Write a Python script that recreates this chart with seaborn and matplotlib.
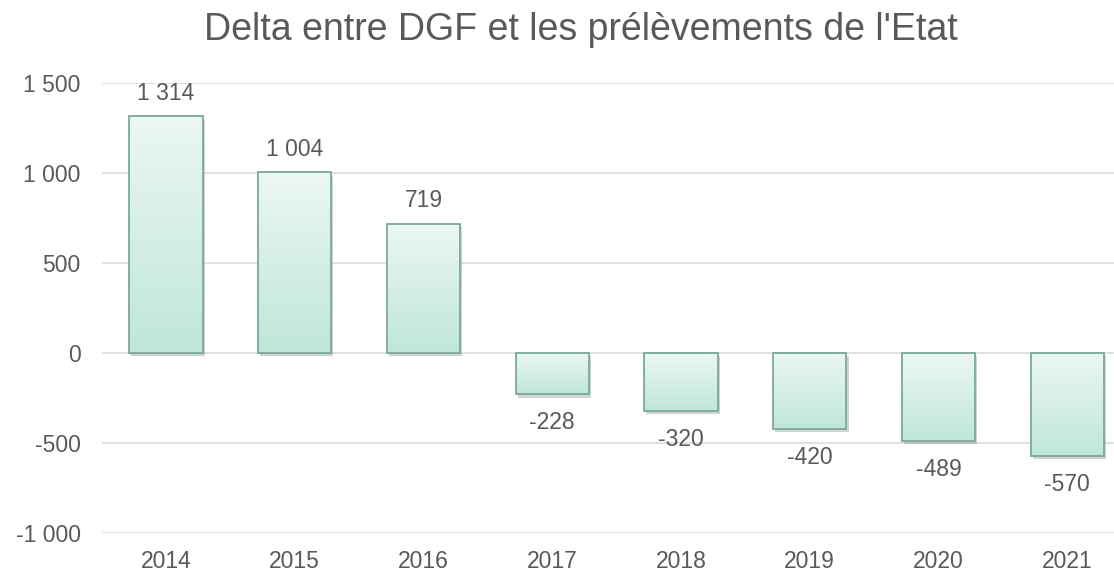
import numpy as np
import pandas as pd
import seaborn as sns
from matplotlib import pyplot as plt
from matplotlib import patheffects as pe
from matplotlib.colors import LinearSegmentedColormap
from matplotlib.patches import Rectangle

years = ['2014', '2015', '2016', '2017', '2018', '2019', '2020', '2021']
delta = [1314, 1004, 719, -228, -320, -420, -489, -570]
y_ticks = [-1000, -500, 0, 500, 1000, 1500]

title = "Delta entre DGF et les prélèvements de l'Etat"

text_col = '#595959'
grid_col = '#d9d9d9'
edge_col = '#79a99c'
top_col = '#ecf7f4'
bottom_col = '#bfe6db'


def fmt(v):
    return f'{int(v):,}'.replace(',', ' ')


sns.set_theme(style='white')
plt.rcParams['font.family'] = ['Liberation Sans', 'DejaVu Sans']
plt.rcParams['axes.unicode_minus'] = False

df = pd.DataFrame({'year': years, 'delta': delta})

fig = plt.figure(figsize=(11.14, 5.72), dpi=100)
ax = fig.add_axes([0.0912, 0.0682, 0.9246, 0.7867])

sns.barplot(data=df, x='year', y='delta', color=bottom_col, width=0.57,
            saturation=1, ax=ax, zorder=2)

cmap = LinearSegmentedColormap.from_list('grad', [top_col, bottom_col])
grad = np.linspace(0, 1, 256).reshape(-1, 1)

for p in ax.patches:
    x0, y0, w, h = p.get_x(), p.get_y(), p.get_width(), p.get_height()
    ylo, yhi = min(y0, y0 + h), max(y0, y0 + h)
    p.set_edgecolor('none')
    p.set_path_effects([pe.SimplePatchShadow(offset=(1.5, -2.5), shadow_rgbFace='#808080',
                                             alpha=0.35), pe.Normal()])
    im = ax.imshow(grad, cmap=cmap, aspect='auto', extent=(x0, x0 + w, ylo, yhi),
                   origin='upper', zorder=2.5, interpolation='bicubic')
    im.set_clip_path(p)
    ax.add_patch(Rectangle((x0, ylo), w, yhi - ylo, facecolor='none',
                           edgecolor=edge_col, linewidth=1.3, zorder=3))

# labels: above positive bars, below negative ones (a bit further away, like Excel)
bars = ax.containers[0]
for p, v in zip(bars, bars.datavalues):
    xc = p.get_x() + p.get_width() / 2
    if v >= 0:
        ax.annotate(fmt(v), (xc, v), xytext=(0, 8), textcoords='offset points',
                    ha='center', va='bottom', fontsize=16.5, color=text_col)
    else:
        ax.annotate(fmt(v), (xc, v), xytext=(0, -12.5), textcoords='offset points',
                    ha='center', va='top', fontsize=16.5, color=text_col)

ax.set_xlim(-0.5, len(years) - 0.5)
ax.set_ylim(-1000, 1500)
ax.set_yticks(y_ticks)
ax.set_yticklabels([fmt(v) for v in y_ticks])
ax.grid(axis='y', color=grid_col, linewidth=1.1, zorder=0)
ax.set_axisbelow(True)
ax.tick_params(axis='both', length=0, labelsize=16.5, labelcolor=text_col)
ax.tick_params(axis='y', pad=15)
ax.tick_params(axis='x', pad=12)
ax.set_xlabel('')
ax.set_ylabel('')
sns.despine(ax=ax, left=True, bottom=True)

fig.text(0.5216, 1 - 30 / 572, title, ha='center', va='center', fontsize=27, color=text_col)

fig.savefig('out.png', dpi=100)
